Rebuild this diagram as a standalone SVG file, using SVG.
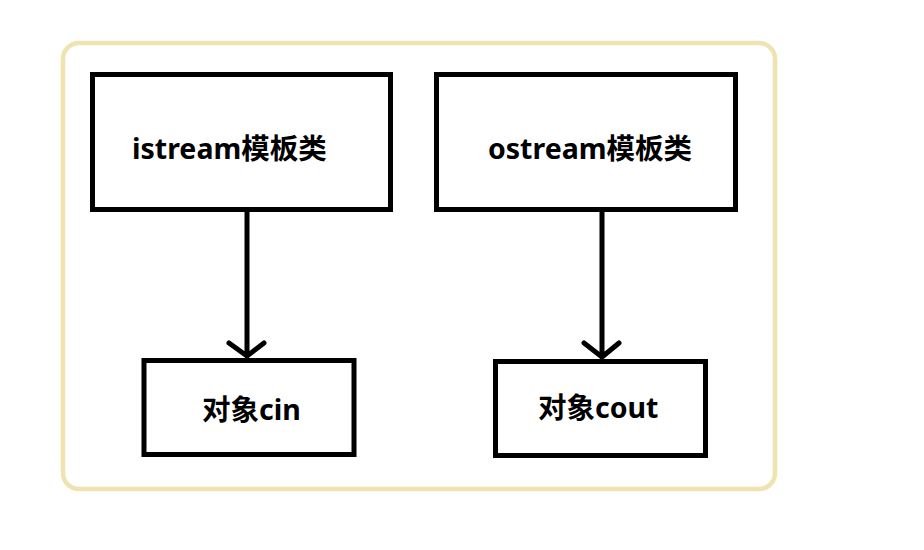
<svg xmlns="http://www.w3.org/2000/svg" width="924" height="550" viewBox="0 0 924 550">
<style>
.box{fill:#fff;stroke:#000;stroke-width:5}
.lbl{font-family:"Noto Sans","Noto Sans CJK SC",sans-serif;font-weight:bold;font-size:28.5px;fill:#000}
.edge{fill:none;stroke:#000;stroke-width:5;stroke-linecap:round;stroke-linejoin:round}
</style>
<rect width="924" height="550" fill="#fff"/>
<rect id="frame" x="63" y="43" width="712" height="446" rx="16" fill="#fff" stroke="#EFE4B0" stroke-width="4.5"/>
<g id="connectors">
<path class="edge" d="M247 210V356M229 343L247 356L264 343"/>
<path class="edge" d="M602 210V357M584 343L602 357L619 343"/>
</g>
<g id="istream">
<rect class="box" x="92.5" y="74.5" width="298" height="135"/>
<text class="lbl" x="132" y="159">istream模板类</text>
</g>
<g id="ostream">
<rect class="box" x="436.5" y="74.5" width="299" height="135"/>
<text class="lbl" x="488" y="159">ostream模板类</text>
</g>
<g id="cin">
<rect class="box" x="144" y="360.5" width="210" height="94"/>
<text class="lbl" x="202" y="420">对象cin</text>
</g>
<g id="cout">
<rect class="box" x="495.5" y="361.5" width="210" height="94"/>
<text class="lbl" x="538" y="418">对象cout</text>
</g>
</svg>
